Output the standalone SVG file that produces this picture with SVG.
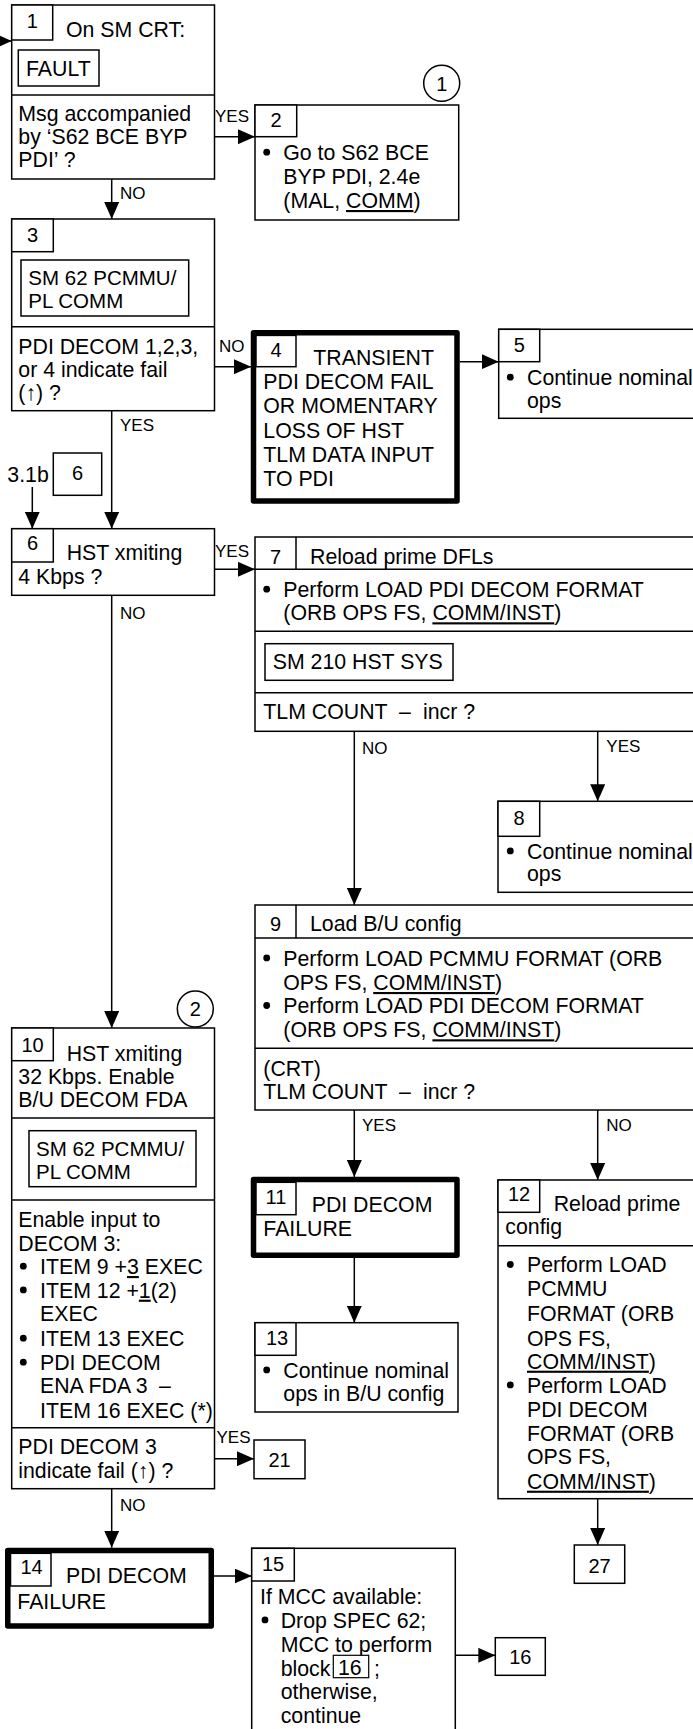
<svg xmlns="http://www.w3.org/2000/svg" width="693" height="1729" viewBox="0 0 693 1729">
<style>
.b{fill:#fff;stroke:#000;stroke-width:1.5}
.tb{fill:#fff;stroke:#000;stroke-width:5.5;stroke-linejoin:round}
.n{fill:none;stroke:#000;stroke-width:1.5}
.t{font-family:"Liberation Sans",Arial,Helvetica,sans-serif;font-size:21.3px;fill:#000}
.ts{font-family:"Liberation Sans",Arial,Helvetica,sans-serif;font-size:20.5px;fill:#000}
.bu{fill:#000;stroke:none}
.num{font-family:"Liberation Sans",Arial,Helvetica,sans-serif;font-size:20px;fill:#000;text-anchor:middle}
.lb{font-family:"Liberation Sans",Arial,Helvetica,sans-serif;font-size:17px;fill:#000}
.u{text-decoration:underline}
.c{fill:none;stroke:#000;stroke-width:1.5;marker-end:url(#ah)}
</style>
<defs>
<marker id="ah" viewBox="0 0 17 15" refX="17" refY="7.5" markerWidth="17" markerHeight="15" markerUnits="userSpaceOnUse" orient="auto">
<path d="M0,0 L17,7.5 L0,15 z" fill="#000"/>
</marker>
</defs>

<g id="connectors">
<path class="c" d="M-8 41 H11.7"/>
<path class="c" d="M214.5 136.7 H255"/>
<path class="c" d="M111.7 179 V219"/>
<path class="c" d="M214.5 366.7 H251"/>
<path class="c" d="M459.7 361.7 H498.7"/>
<path class="c" d="M111.7 410.7 V528.7"/>
<path class="c" d="M32.3 487 V528.7"/>
<path class="c" d="M214.5 569.3 H255"/>
<path class="c" d="M111.7 595.3 V1028"/>
<path class="c" d="M597.7 731.3 V801.3"/>
<path class="c" d="M354.3 731.3 V905"/>
<path class="c" d="M354.3 1110 V1177"/>
<path class="c" d="M597.7 1110 V1180"/>
<path class="c" d="M354.3 1258 V1322.7"/>
<path class="c" d="M214.5 1458.7 H254"/>
<path class="c" d="M111.7 1488.7 V1547.7"/>
<path class="c" d="M214 1576 H251.7"/>
<path class="c" d="M455.3 1655.3 H495.3"/>
<path class="c" d="M597.7 1498.7 V1545"/>
<text class="lb" x="215" y="121.7">YES</text>
<text class="lb" x="120" y="199">NO</text>
<text class="lb" x="219" y="351.7">NO</text>
<text class="lb" x="120" y="431">YES</text>
<text class="lb" x="215" y="557">YES</text>
<text class="lb" x="120" y="618.7">NO</text>
<text class="lb" x="362" y="753.7">NO</text>
<text class="lb" x="606.3" y="752">YES</text>
<text class="lb" x="362" y="1130.7">YES</text>
<text class="lb" x="606.3" y="1130.7">NO</text>
<text class="lb" x="216.5" y="1442.7">YES</text>
<text class="lb" x="120" y="1511">NO</text>
</g>

<g id="node1">
<rect class="b" x="11.7" y="5" width="202.8" height="174"/>
<rect class="b" x="11.7" y="5" width="41" height="35"/>
<text class="num" x="32.2" y="28">1</text>
<text class="t" x="66" y="36.7">On SM CRT:</text>
<rect class="b" x="18.3" y="50" width="80.7" height="36"/>
<text class="t" x="26" y="76">FAULT</text>
<line class="n" x1="11.7" y1="95" x2="214.5" y2="95"/>
<text class="t" x="18.3" y="120.7">Msg accompanied</text>
<text class="t" x="18.3" y="144">by ‘S62 BCE BYP</text>
<text class="t" x="18.3" y="167">PDI’ ?</text>
</g>

<g id="note1">
<circle class="n" cx="441.7" cy="83.3" r="18"/>
<text class="num" x="441.7" y="90.5">1</text>
</g>

<g id="node2">
<rect class="b" x="255" y="105" width="203.7" height="115"/>
<rect class="b" x="255" y="105" width="41.7" height="31.7"/>
<text class="num" x="276" y="126.7">2</text>
<circle class="bu" cx="266.7" cy="152.2" r="3.4"/>
<text class="t" x="283.3" y="160">Go to S62 BCE</text>
<text class="t" x="283.3" y="184">BYP PDI, 2.4e</text>
<text class="t" x="283.3" y="208">(MAL, <tspan class="u">COMM</tspan>)</text>
</g>

<g id="node3">
<rect class="b" x="11.7" y="219" width="202.8" height="191.7"/>
<rect class="b" x="11.7" y="219" width="41.6" height="32.7"/>
<text class="num" x="32.5" y="241.7">3</text>
<rect class="b" x="21" y="260" width="167.7" height="56"/>
<text class="ts" x="28.3" y="284.5">SM 62 PCMMU/</text>
<text class="ts" x="28.3" y="307.6">PL COMM</text>
<line class="n" x1="11.7" y1="326.7" x2="214.5" y2="326.7"/>
<text class="t" x="18.3" y="354">PDI DECOM 1,2,3,</text>
<text class="t" x="18.3" y="377">or 4 indicate fail</text>
<text class="t" x="18.3" y="400">(↑) ?</text>
</g>

<g id="node4">
<rect class="tb" x="253.5" y="332.7" width="203.5" height="168.3"/>
<rect class="b" x="256" y="335.4" width="40" height="31.3"/>
<text class="num" x="276" y="357">4</text>
<text class="t" x="313.3" y="365">TRANSIENT</text>
<text class="t" x="263.3" y="389">PDI DECOM FAIL</text>
<text class="t" x="263.3" y="413">OR MOMENTARY</text>
<text class="t" x="263.3" y="437.5">LOSS OF HST</text>
<text class="t" x="263.3" y="461.5">TLM DATA INPUT</text>
<text class="t" x="263.3" y="485.5">TO PDI</text>
</g>

<g id="node5">
<rect class="b" x="498.7" y="329.3" width="205" height="89"/>
<rect class="b" x="498.7" y="329.3" width="41" height="32.4"/>
<text class="num" x="519.2" y="351.7">5</text>
<circle class="bu" cx="510.3" cy="377.2" r="3.4"/>
<text class="t" x="527" y="385">Continue nominal</text>
<text class="t" x="527" y="408.3">ops</text>
</g>

<g id="ref6">
<text class="t" x="7.3" y="482">3.1b</text>
<rect class="b" x="53.3" y="453" width="48.4" height="42.3"/>
<text class="num" x="77.5" y="480.3">6</text>
</g>

<g id="node6">
<rect class="b" x="11.7" y="528.7" width="202.8" height="66.6"/>
<rect class="b" x="11.7" y="528.7" width="41.6" height="33.3"/>
<text class="num" x="32.5" y="550.3">6</text>
<text class="t" x="66.7" y="560.3">HST xmiting</text>
<text class="t" x="18.3" y="583.7">4 Kbps ?</text>
</g>

<g id="node7">
<rect class="b" x="255" y="537" width="450" height="194.3"/>
<line class="n" x1="255" y1="569.3" x2="705" y2="569.3"/>
<line class="n" x1="296" y1="537" x2="296" y2="569.3"/>
<text class="num" x="275.5" y="563.7">7</text>
<text class="t" x="310" y="563.7">Reload prime DFLs</text>
<circle class="bu" cx="266.7" cy="589.2" r="3.4"/>
<text class="t" x="283.3" y="597">Perform LOAD PDI DECOM FORMAT</text>
<text class="t" x="283.3" y="620.3">(ORB OPS FS, <tspan class="u">COMM/INST</tspan>)</text>
<line class="n" x1="255" y1="631.3" x2="705" y2="631.3"/>
<rect class="b" x="265" y="643.7" width="188" height="36.6"/>
<text class="t" x="272.7" y="669.3">SM 210 HST SYS</text>
<line class="n" x1="255" y1="692.7" x2="705" y2="692.7"/>
<text class="t" x="263.3" y="719.3">TLM COUNT</text>
<text class="t" x="399" y="719.3">–</text>
<text class="t" x="423" y="719.3">incr ?</text>
</g>

<g id="node8">
<rect class="b" x="498" y="801.3" width="206" height="91"/>
<rect class="b" x="498" y="801.3" width="41.7" height="35"/>
<text class="num" x="519" y="825.3">8</text>
<circle class="bu" cx="510.3" cy="850.9" r="3.4"/>
<text class="t" x="527" y="858.7">Continue nominal</text>
<text class="t" x="527" y="880.7">ops</text>
</g>

<g id="node9">
<rect class="b" x="255" y="905" width="450" height="205"/>
<line class="n" x1="255" y1="938" x2="705" y2="938"/>
<line class="n" x1="296" y1="905" x2="296" y2="938"/>
<text class="num" x="275.5" y="930.7">9</text>
<text class="t" x="310" y="930.7">Load B/U config</text>
<circle class="bu" cx="266.7" cy="957.9" r="3.4"/>
<text class="t" x="283.3" y="965.7">Perform LOAD PCMMU FORMAT (ORB</text>
<text class="t" x="283.3" y="990">OPS FS, <tspan class="u">COMM/INST</tspan>)</text>
<circle class="bu" cx="266.7" cy="1005.5" r="3.4"/>
<text class="t" x="283.3" y="1013.3">Perform LOAD PDI DECOM FORMAT</text>
<text class="t" x="283.3" y="1037.3">(ORB OPS FS, <tspan class="u">COMM/INST</tspan>)</text>
<line class="n" x1="255" y1="1048.3" x2="705" y2="1048.3"/>
<text class="t" x="263.3" y="1075.7">(CRT)</text>
<text class="t" x="263.3" y="1099">TLM COUNT</text>
<text class="t" x="399" y="1099">–</text>
<text class="t" x="423" y="1099">incr ?</text>
</g>

<g id="note2">
<circle class="n" cx="195.3" cy="1009" r="18"/>
<text class="num" x="195.3" y="1016.2">2</text>
</g>

<g id="node10">
<rect class="b" x="11.7" y="1028" width="202.8" height="460.7"/>
<rect class="b" x="11.7" y="1028" width="41.6" height="32.7"/>
<text class="num" x="32.5" y="1052.3">10</text>
<text class="t" x="66.7" y="1060.7">HST xmiting</text>
<text class="t" x="18.3" y="1084">32 Kbps. Enable</text>
<text class="t" x="18.3" y="1107.3">B/U DECOM FDA</text>
<line class="n" x1="11.7" y1="1118" x2="214.5" y2="1118"/>
<rect class="b" x="29" y="1130.7" width="167" height="56"/>
<text class="ts" x="36" y="1155.5">SM 62 PCMMU/</text>
<text class="ts" x="36" y="1178.6">PL COMM</text>
<line class="n" x1="11.7" y1="1200" x2="214.5" y2="1200"/>
<text class="t" x="18.3" y="1227.3">Enable input to</text>
<text class="t" x="18.3" y="1250.7">DECOM 3:</text>
<circle class="bu" cx="23.3" cy="1266.2" r="3.4"/>
<text class="t" x="40" y="1274">ITEM 9 +<tspan class="u">3</tspan> EXEC</text>
<circle class="bu" cx="23.3" cy="1289.9" r="3.4"/>
<text class="t" x="40" y="1297.7">ITEM 12 +<tspan class="u">1</tspan>(2)</text>
<text class="t" x="40" y="1321">EXEC</text>
<circle class="bu" cx="23.3" cy="1338.2" r="3.4"/>
<text class="t" x="40" y="1346">ITEM 13 EXEC</text>
<circle class="bu" cx="23.3" cy="1362.2" r="3.4"/>
<text class="t" x="40" y="1370">PDI DECOM</text>
<text class="t" x="40" y="1393.3">ENA FDA 3</text>
<text class="t" x="159" y="1393.3">–</text>
<text class="t" x="40" y="1417.7">ITEM 16 EXEC (*)</text>
<line class="n" x1="11.7" y1="1427.7" x2="214.5" y2="1427.7"/>
<text class="t" x="18.3" y="1454.3">PDI DECOM 3</text>
<text class="t" x="18.3" y="1477.7">indicate fail (↑) ?</text>
</g>

<g id="node11">
<rect class="tb" x="253.5" y="1179.5" width="203.5" height="75.8"/>
<rect class="b" x="256" y="1182.3" width="40" height="32.4"/>
<text class="num" x="276" y="1204">11</text>
<text class="t" x="311.7" y="1212.3">PDI DECOM</text>
<text class="t" x="263.3" y="1235.7">FAILURE</text>
</g>

<g id="node12">
<rect class="b" x="498" y="1180" width="206" height="318.7"/>
<rect class="b" x="498" y="1180" width="41.7" height="32.3"/>
<text class="num" x="519" y="1200.7">12</text>
<text class="t" x="553.7" y="1210.7">Reload prime</text>
<text class="t" x="505.3" y="1234">config</text>
<line class="n" x1="498" y1="1245.7" x2="704" y2="1245.7"/>
<circle class="bu" cx="510.3" cy="1264.5" r="3.4"/>
<text class="t" x="527" y="1272.3">Perform LOAD</text>
<text class="t" x="527" y="1295.7">PCMMU</text>
<text class="t" x="527" y="1321">FORMAT (ORB</text>
<text class="t" x="527" y="1346">OPS FS,</text>
<text class="t" x="527" y="1368.7"><tspan class="u">COMM/INST</tspan>)</text>
<circle class="bu" cx="510.3" cy="1384.9" r="3.4"/>
<text class="t" x="527" y="1392.7">Perform LOAD</text>
<text class="t" x="527" y="1416.7">PDI DECOM</text>
<text class="t" x="527" y="1441">FORMAT (ORB</text>
<text class="t" x="527" y="1464.3">OPS FS,</text>
<text class="t" x="527" y="1488.7"><tspan class="u">COMM/INST</tspan>)</text>
</g>

<g id="node13">
<rect class="b" x="255" y="1322.7" width="203" height="89.3"/>
<rect class="b" x="255" y="1322.7" width="41" height="32.6"/>
<text class="num" x="277" y="1345.3">13</text>
<circle class="bu" cx="266.7" cy="1369.9" r="3.4"/>
<text class="t" x="283.3" y="1377.7">Continue nominal</text>
<text class="t" x="283.3" y="1401">ops in B/U config</text>
</g>

<g id="node21">
<rect class="b" x="254" y="1440" width="51" height="38.7"/>
<text class="num" x="279.5" y="1466.7">21</text>
</g>

<g id="node14">
<rect class="tb" x="7.75" y="1550.5" width="203.5" height="75.5"/>
<rect class="b" x="10.5" y="1553.3" width="40.5" height="32.7"/>
<text class="num" x="31.5" y="1574.3">14</text>
<text class="t" x="66" y="1583.3">PDI DECOM</text>
<text class="t" x="17.3" y="1608.7">FAILURE</text>
</g>

<g id="node15">
<rect class="b" x="251.7" y="1548.3" width="203.6" height="200"/>
<rect class="b" x="251.7" y="1548.3" width="42.6" height="32.7"/>
<text class="num" x="273" y="1571">15</text>
<text class="t" x="260" y="1604.3">If MCC available:</text>
<circle class="bu" cx="265" cy="1619.9" r="3.4"/>
<text class="t" x="280.7" y="1627.7">Drop SPEC 62;</text>
<text class="t" x="280.7" y="1651.7">MCC to perform</text>
<text class="t" x="280.7" y="1676">block</text>
<rect class="b" x="333.3" y="1655.3" width="35.4" height="22.4" style="stroke-width:1.2"/>
<text class="t" x="338" y="1675">16</text>
<text class="t" x="374" y="1676">;</text>
<text class="t" x="280.7" y="1699.3">otherwise,</text>
<text class="t" x="280.7" y="1723.3">continue</text>
</g>

<g id="node16">
<rect class="b" x="495.3" y="1637.7" width="50" height="37.6"/>
<text class="num" x="520.3" y="1664.3">16</text>
</g>

<g id="node27">
<rect class="b" x="574.3" y="1545" width="50.4" height="38.3"/>
<text class="num" x="599.5" y="1572.7">27</text>
</g>
</svg>
